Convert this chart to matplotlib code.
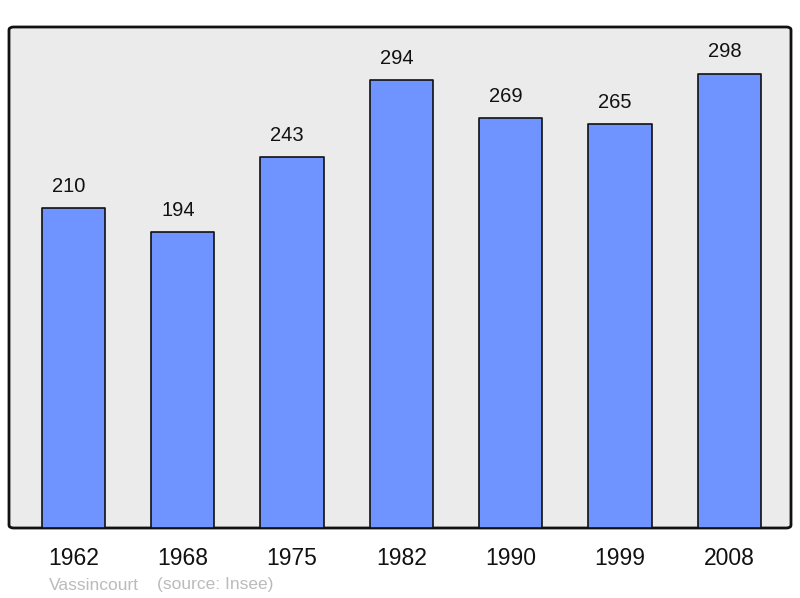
import matplotlib
matplotlib.use('Agg')
import matplotlib.pyplot as plt
from matplotlib.patches import FancyBboxPatch

plt.rcParams['font.family'] = ['Liberation Sans', 'DejaVu Sans']

years = ['1962', '1968', '1975', '1982', '1990', '1999', '2008']
population = [210, 194, 243, 294, 269, 265, 298]
commune = 'Vassincourt'
source = '(source: Insee)'

fig = plt.figure(figsize=(8, 5.98), dpi=100)
ax = fig.add_axes([9 / 800, 70 / 598, 782 / 800, 501 / 598])
ax.set_facecolor('none')

# rounded frame background
frame = FancyBboxPatch((0, 0), 1, 1, boxstyle='round,pad=0,rounding_size=0.006',
                       transform=ax.transAxes, facecolor='#ebebeb',
                       edgecolor='#111111', linewidth=2, zorder=0, clip_on=False)
ax.add_patch(frame)

x = range(len(years))
bars = ax.bar(x, population, width=0.58, color='#7094ff', edgecolor='#111111',
              linewidth=1.2, zorder=2)
for b in bars:
    b.set_joinstyle('round')

for xi, v in zip(x, population):
    ax.annotate(str(v), (xi, v), xytext=(-3.5, 15.5), textcoords='offset points',
                ha='center', va='center', fontsize=14.5, color='#111111')

ax.set_xlim(-0.59, 6.565)
ax.set_ylim(0, 328.5)
ax.set_xticks(list(x))
ax.set_xticklabels(years, fontsize=16.5, color='#111111')
ax.tick_params(axis='x', length=0, pad=13.5)
ax.set_yticks([])
for s in ax.spines.values():
    s.set_visible(False)

fig.text(49 / 800, 1 - 585 / 598, commune, fontsize=12.5, color='#bbbbbb',
         ha='left', va='center')
fig.text(157 / 800, 1 - 585 / 598, source, fontsize=12.5, color='#bbbbbb',
         ha='left', va='center')

fig.savefig('out.png', dpi=100)
